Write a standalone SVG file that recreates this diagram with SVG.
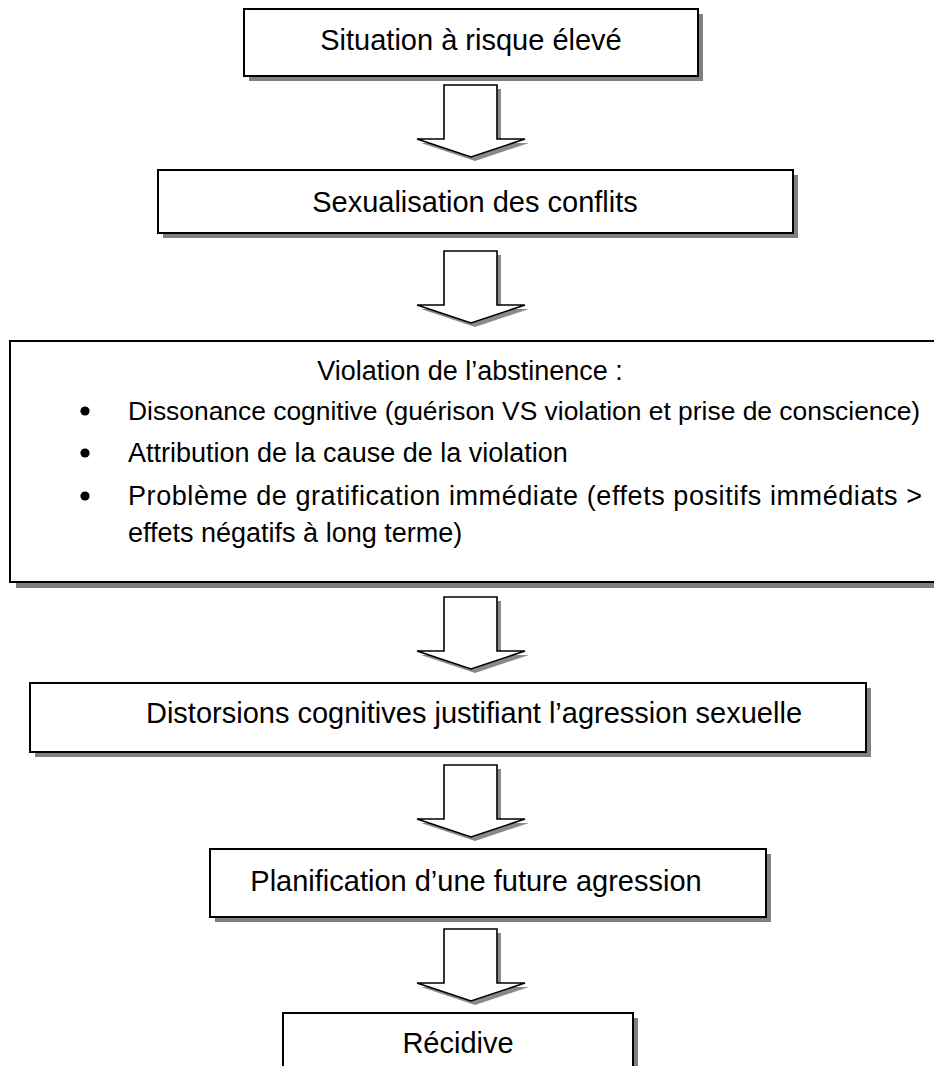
<svg xmlns="http://www.w3.org/2000/svg" width="934" height="1066" viewBox="0 0 934 1066">
<style>
.shadow{fill:#808080;stroke:none}
.box{fill:#ffffff;stroke:#000000;stroke-width:2}
.arrow{fill:#ffffff;stroke:#000000;stroke-width:1.6;stroke-linejoin:miter}
.ashadow{fill:#8a8a8a;stroke:none}
.t{font-family:"Liberation Sans",Arial,sans-serif;font-size:29px;fill:#000000}
.s{font-size:27px}
.c{text-anchor:middle}
</style>
<defs>
<path id="arr" d="M0,0 H53 V54 H81 L27,72 L-27,54 H0 Z"/>
</defs>
<rect width="934" height="1066" fill="#ffffff"/>

<g id="connectors">
<g transform="translate(444,85)"><use href="#arr" class="ashadow" x="4" y="4"/><use href="#arr" class="arrow"/></g>
<g transform="translate(444,251)"><use href="#arr" class="ashadow" x="4" y="4"/><use href="#arr" class="arrow"/></g>
<g transform="translate(444,597)"><use href="#arr" class="ashadow" x="4" y="4"/><use href="#arr" class="arrow"/></g>
<g transform="translate(444,765)"><use href="#arr" class="ashadow" x="4" y="4"/><use href="#arr" class="arrow"/></g>
<g transform="translate(444,929)"><use href="#arr" class="ashadow" x="4" y="4"/><use href="#arr" class="arrow"/></g>
</g>

<g id="n1">
<rect class="shadow" x="249" y="14" width="454" height="67"/>
<rect class="box" x="244" y="9" width="454" height="67"/>
<text class="t c" x="471" y="50">Situation à risque élevé</text>
</g>

<g id="n2">
<rect class="shadow" x="163" y="175" width="635" height="63"/>
<rect class="box" x="158" y="170" width="635" height="63"/>
<text class="t c" x="475" y="212">Sexualisation des conflits</text>
</g>

<g id="n3">
<rect class="shadow" x="16" y="347" width="940" height="241"/>
<rect class="box" x="10" y="341" width="940" height="241"/>
<text class="t s c" x="470" y="380">Violation de l’abstinence :</text>
<circle cx="85" cy="411" r="4.6" fill="#000"/>
<text class="t" x="128" y="420" style="font-size:26.4px">Dissonance cognitive (guérison VS violation et prise de conscience)</text>
<circle cx="85" cy="453" r="4.6" fill="#000"/>
<text class="t s" x="128" y="462">Attribution de la cause de la violation</text>
<circle cx="85" cy="496" r="4.6" fill="#000"/>
<text class="t s" x="128" y="505" textLength="794" lengthAdjust="spacing">Problème de gratification immédiate (effets positifs immédiats &gt;</text>
<text class="t s" x="128" y="542">effets négatifs à long terme)</text>
</g>

<g id="n4">
<rect class="shadow" x="35" y="688" width="836" height="69"/>
<rect class="box" x="30" y="683" width="836" height="69"/>
<text class="t c" x="474" y="723">Distorsions cognitives justifiant l’agression sexuelle</text>
</g>

<g id="n5">
<rect class="shadow" x="215" y="854" width="556" height="68"/>
<rect class="box" x="210" y="849" width="556" height="68"/>
<text class="t c" x="476" y="891">Planification d’une future agression</text>
</g>

<g id="n6">
<rect class="shadow" x="288" y="1018" width="350" height="70"/>
<rect class="box" x="283" y="1013" width="350" height="70"/>
<text class="t c" x="458" y="1053">Récidive</text>
</g>
</svg>
